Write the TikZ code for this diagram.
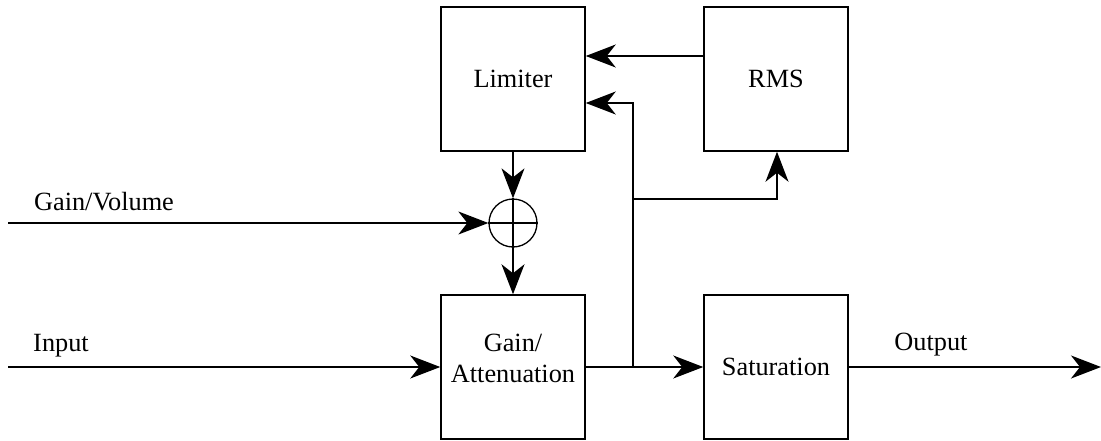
\documentclass[tikz,border=0pt]{standalone}
\usepackage{fontspec}
\setmainfont{Liberation Serif}
\usetikzlibrary{arrows.meta}
\begin{document}
\begin{tikzpicture}[x=1pt,y=-1pt,
  blk/.style={draw,line width=1.5pt,minimum width=144pt,minimum height=144pt,inner sep=0pt,align=center,font=\fontsize{26.3}{31}\selectfont},
  lbl/.style={inner sep=0pt,font=\fontsize{26.3}{31}\selectfont},
  sumc/.style={draw,circle,line width=1.3pt,minimum size=48pt,inner sep=0pt},
  conn/.style={line width=1.3pt},
  arr/.style={conn,-{Stealth[length=30pt,width=23pt,inset=9pt]}}]
\useasboundingbox (0,0) rectangle (1101,440);
\node[blk] (lim) at (513,79) {Limiter};
\node[blk] (rms) at (776,79) {RMS};
\node[blk] (gain) at (513,367) {};
\node[lbl,align=center] (gaintxt) at (513,358) {Gain/\\Attenuation};
\node[blk] (sat) at (776,367) {Saturation};
\node[sumc] (sum) at (513,223) {};
\draw[conn] (sum.north) -- (sum.south);
\draw[conn] (sum.west) -- (sum.east);
\coordinate (gvin) at (8,223);
\coordinate (inp) at (8,367);
\coordinate (outp) at (1101,367);
\coordinate (jn) at (633,367);
\coordinate (jtop) at (633,103);
\coordinate (jmid) at (633,199);
\coordinate (rmsb) at (777,199);
\node[lbl] (tgv) at (104,202) {Gain/Volume};
\node[lbl] (tin) at (61,346) {Input};
\node[lbl] (tout) at (931,345) {Output};
\draw[arr] (lim.south) -- (sum.north);
\draw[arr] (gvin) -- (sum.west);
\draw[arr] (sum.south) -- (gain.north);
\draw[arr] (inp) -- (gain.west);
\draw[arr] (gain.east) -- (sat.west);
\draw[arr] (jn) -- (jtop) -- (lim.east |- jtop);
\draw[arr] (jmid) -- (rmsb) -- (rmsb |- rms.south);
\draw[arr] (rms.west |- 0,56) -- (lim.east |- 0,56);
\draw[arr] (sat.east) -- (outp);
\end{tikzpicture}
\end{document}
